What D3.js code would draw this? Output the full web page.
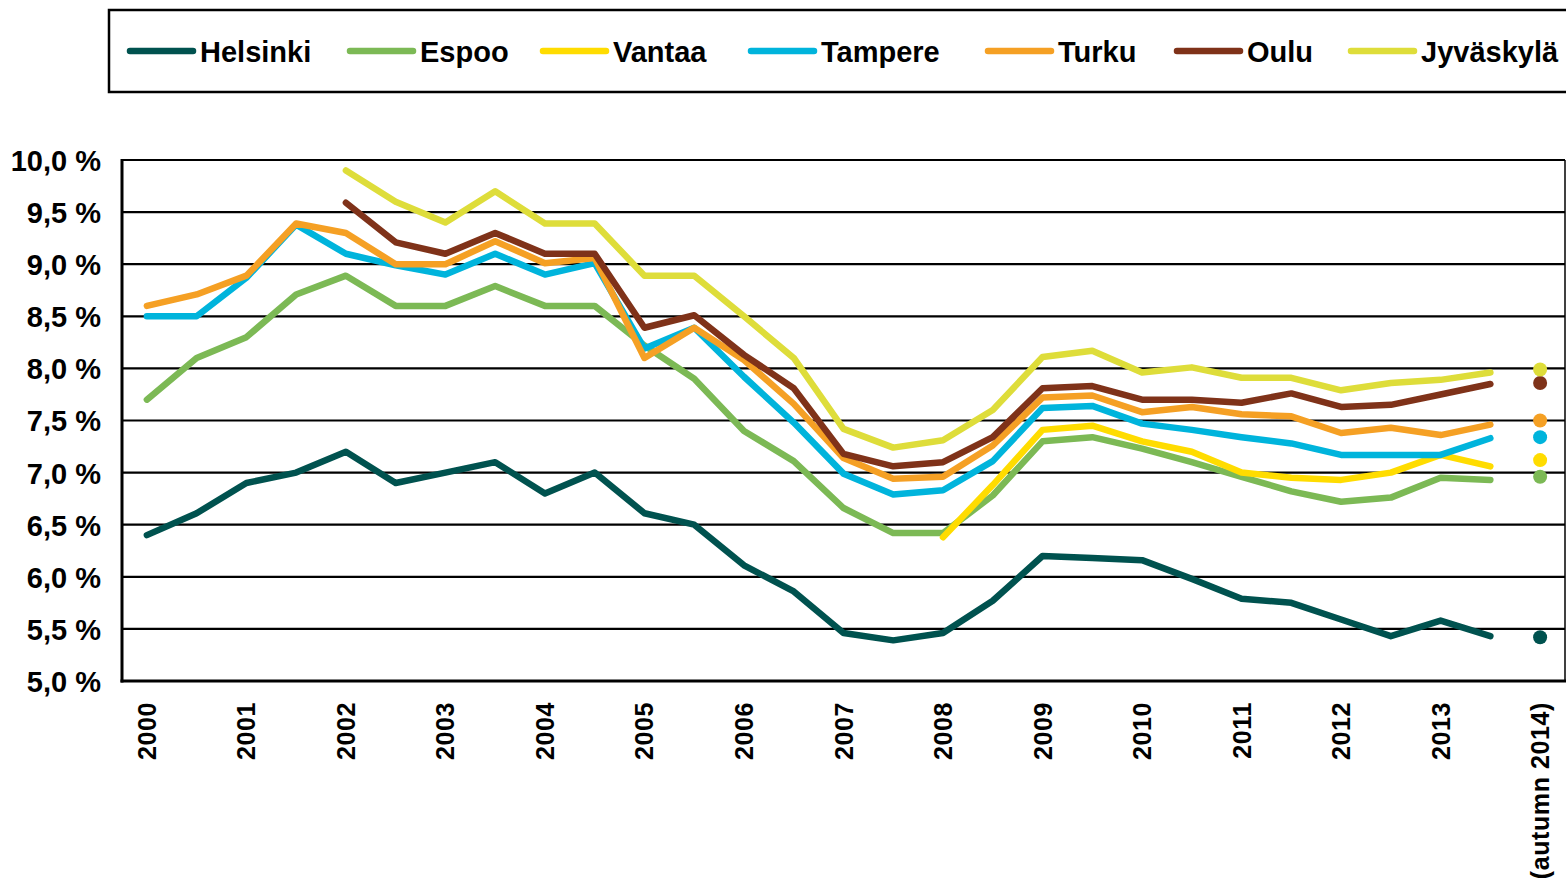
<!DOCTYPE html>
<meta charset="utf-8">
<script src="https://d3js.org/d3.v7.js"></script>
<style>
body { margin: 0; background-color: white; }
text { font-family: "Liberation Sans", Arial, sans-serif; font-weight: bold; }
</style>

<div id="chart"></div>

<script>
  // half-year periods 2000..2013 plus the autumn 2014 figure
  var periods = [];
  for (var yr = 2000; yr <= 2013; yr++) { periods.push(yr + "a"); periods.push(yr + "b"); }
  periods.push("2014 autumn");

  var tickLabels = ["2000","2001","2002","2003","2004","2005","2006","2007","2008","2009","2010","2011","2012","2013","(autumn 2014)"];

  var yTicks = [5.0, 5.5, 6.0, 6.5, 7.0, 7.5, 8.0, 8.5, 9.0, 9.5, 10.0];

  var cities = ["Helsinki","Espoo","Vantaa","Tampere","Turku","Oulu","Jyväskylä"];
  var colors = ["#00524f","#7cb955","#ffdc00","#00b4dc","#f5a024","#7f3219","#dedd3a"];

  var helsinki = [6.40,6.61,6.90,7.00,7.20,6.90,7.00,7.10,6.80,7.00,6.61,6.50,6.11,5.86,5.46,5.39,5.46,5.77,6.20,6.18,6.16,5.98,5.79,5.75,5.59,5.43,5.58,5.43];
  var espoo    = [7.70,8.10,8.30,8.71,8.89,8.60,8.60,8.79,8.60,8.60,8.22,7.90,7.40,7.11,6.66,6.42,6.42,6.78,7.30,7.34,7.23,7.10,6.96,6.82,6.72,6.76,6.95,6.93];
  var vantaa   = [null,null,null,null,null,null,null,null,null,null,null,null,null,null,null,null,6.38,6.88,7.41,7.45,7.30,7.20,7.00,6.95,6.93,7.00,7.17,7.06];
  var tampere  = [8.50,8.50,8.87,9.38,9.10,8.99,8.90,9.10,8.90,9.01,8.19,8.39,7.92,7.48,6.99,6.79,6.83,7.11,7.62,7.64,7.47,7.41,7.34,7.28,7.17,7.17,7.17,7.33];
  var turku    = [8.60,8.71,8.89,9.39,9.30,9.00,9.00,9.22,9.01,9.06,8.10,8.39,8.08,7.66,7.14,6.94,6.96,7.26,7.72,7.74,7.58,7.63,7.56,7.54,7.38,7.43,7.36,7.46];
  var oulu     = [null,null,null,null,9.59,9.21,9.10,9.30,9.10,9.10,8.39,8.51,8.13,7.81,7.18,7.06,7.10,7.34,7.81,7.83,7.70,7.70,7.67,7.76,7.63,7.65,7.75,7.85];
  var jyvaskyla= [null,null,null,null,9.90,9.60,9.40,9.70,9.39,9.39,8.89,8.89,8.50,8.10,7.42,7.24,7.31,7.60,8.11,8.17,7.96,8.01,7.91,7.91,7.79,7.86,7.89,7.96];

  // autumn 2014 single points, same city order
  var autumn2014 = [5.42,6.96,7.12,7.34,7.50,7.86,7.99];

  var seriesValues = [helsinki, espoo, vantaa, tampere, turku, oulu, jyvaskyla];

  var width = 1566, height = 882;
  var plot = {left: 122, right: 1565, top: 160, bottom: 681};

  var svg = d3.select("#chart")
    .append("svg")
      .attr("width", width)
      .attr("height", height);

  var x = d3.scalePoint()
    .domain(periods)
    .range([plot.left, plot.right])
    .padding(0.5);

  var y = d3.scaleLinear()
    .domain([5, 10])
    .range([plot.bottom, plot.top]);

  // gridlines
  svg.append("g")
    .selectAll("line")
    .data(yTicks.filter(function(d) { return d > 5; }))
    .enter()
    .append("line")
      .attr("x1", plot.left)
      .attr("x2", plot.right)
      .attr("y1", function(d) { return y(d); })
      .attr("y2", function(d) { return y(d); })
      .attr("stroke", "black")
      .attr("stroke-width", 2.2);

  // right border
  svg.append("line")
    .attr("x1", plot.right).attr("x2", plot.right)
    .attr("y1", plot.top).attr("y2", plot.bottom)
    .attr("stroke", "black").attr("stroke-width", 1.5);

  // y axis labels
  var fmt = function(d) { return d3.format(".1f")(d).replace(".", ",") + " %"; };
  var yAxis = svg.append("g")
    .attr("transform", "translate(" + plot.left + ",0)")
    .call(d3.axisLeft(y).tickValues(yTicks).tickFormat(fmt).tickSize(0).tickPadding(21));
  yAxis.select(".domain").remove();
  yAxis.selectAll("text")
    .attr("font-size", 29)
    .attr("font-family", "Liberation Sans, Arial, sans-serif")
    .attr("font-weight", "bold")
    .attr("fill", "black")
    .attr("dy", "0.36em");

  // x axis labels (every year + autumn 2014)
  var labelPeriods = periods.filter(function(d, i) { return i % 2 === 0; });
  svg.append("g")
    .selectAll("text")
    .data(labelPeriods)
    .enter()
    .append("text")
      .attr("transform", function(d) { return "translate(" + (x(d) + 9) + ",702) rotate(-90)"; })
      .attr("text-anchor", "end")
      .attr("font-size", 25)
      .attr("letter-spacing", 0.6)
      .attr("fill", "black")
      .text(function(d, i) { return tickLabels[i]; });

  // lines
  var line = d3.line()
    .defined(function(d) { return d.v !== null; })
    .x(function(d) { return x(d.p); })
    .y(function(d) { return y(d.v); });

  seriesValues.forEach(function(vals, k) {
    var pts = vals.map(function(v, i) { return {p: periods[i], v: v}; });
    svg.append("path")
      .datum(pts)
      .attr("d", line)
      .attr("fill", "none")
      .attr("stroke", colors[k])
      .attr("stroke-width", 6.5)
      .attr("stroke-linejoin", "round")
      .attr("stroke-linecap", "round");
  });

  // autumn 2014 dots
  svg.append("g")
    .selectAll("circle")
    .data(autumn2014)
    .enter()
    .append("circle")
      .attr("cx", x("2014 autumn"))
      .attr("cy", function(d) { return y(d); })
      .attr("r", 7)
      .attr("fill", function(d, i) { return colors[i]; });

  // axis lines on top
  svg.append("line")
    .attr("x1", plot.left).attr("x2", plot.left)
    .attr("y1", plot.top - 1).attr("y2", plot.bottom + 1.5)
    .attr("stroke", "black").attr("stroke-width", 3);
  svg.append("line")
    .attr("x1", plot.left - 1.5).attr("x2", plot.right + 1)
    .attr("y1", plot.bottom).attr("y2", plot.bottom)
    .attr("stroke", "black").attr("stroke-width", 3);

  // legend
  var legendX = [130, 350, 543, 751, 988, 1177, 1351];
  var legend = svg.append("g");
  legend.append("rect")
    .attr("x", 109).attr("y", 10)
    .attr("width", 1500).attr("height", 82)
    .attr("fill", "none")
    .attr("stroke", "black")
    .attr("stroke-width", 2.5);

  var items = legend.selectAll("g.item")
    .data(cities)
    .enter()
    .append("g")
      .attr("class", "item")
      .attr("transform", function(d, i) { return "translate(" + legendX[i] + ",51)"; });
  items.append("line")
    .attr("x1", 0).attr("x2", 63)
    .attr("y1", 0).attr("y2", 0)
    .attr("stroke", function(d, i) { return colors[i]; })
    .attr("stroke-width", 6.5)
    .attr("stroke-linecap", "round");
  items.append("text")
    .attr("x", 70)
    .attr("y", 11)
    .attr("font-size", 29)
    .attr("fill", "black")
    .text(function(d) { return d; });
</script>
</html>
